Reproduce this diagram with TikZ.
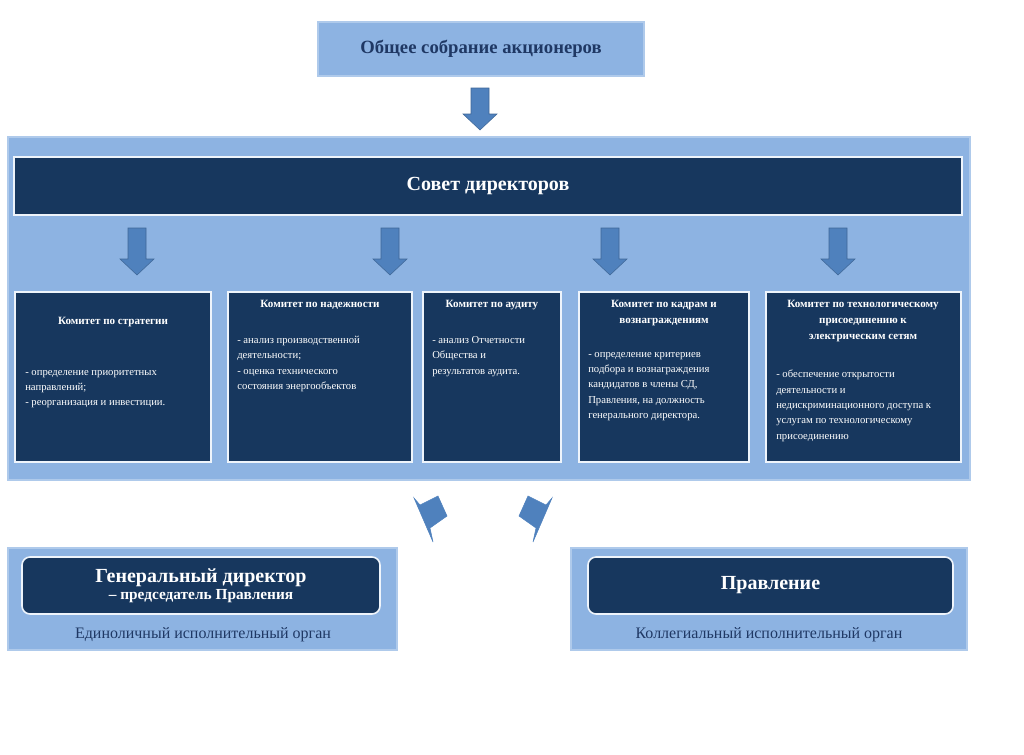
\documentclass[tikz,border=0pt]{standalone}
\usepackage{fontspec}
\setmainfont{Liberation Serif}
\definecolor{lb}{HTML}{8DB3E2}
\definecolor{nv}{HTML}{17375E}
\definecolor{ar}{HTML}{4F81BD}
\definecolor{tx}{HTML}{1F3864}
\begin{document}
\begin{tikzpicture}[x=0.75pt,y=-0.75pt,
  panel/.style={fill=lb,draw=lb!70!white,line width=0.8pt},
  dark/.style={fill=nv,draw=white!85!lb,line width=1.2pt},
  dn/.style={fill=ar,draw=ar!80!black,line width=0.4pt},
  comt/.style={text=white,font=\fontsize{8}{11.5}\selectfont,anchor=north west,inner sep=0pt,align=left},
  ttl/.style={text=white,font=\bfseries\fontsize{8.3}{12}\selectfont,align=center,inner sep=0pt,anchor=north}]
\useasboundingbox (0,0) rectangle (1024,754);
% top
\node[panel,minimum width=326*0.75pt,minimum height=54*0.75pt,inner sep=0pt,text=tx,font=\bfseries\fontsize{14}{16}\selectfont] (gsm) at (481,49) {Общее собрание акционеров};
\newcommand\dnarrow[3]{\filldraw[dn] (#1-9,#2) -- (#1+9,#2) -- (#1+9,#3-16) -- (#1+17,#3-16) -- (#1,#3) -- (#1-17,#3-16) -- (#1-9,#3-16) -- cycle;}
\dnarrow{480}{88}{130}
\draw[panel] (8,137) rectangle (970,480);
\node[dark,minimum width=948*0.75pt,minimum height=58*0.75pt,inner sep=0pt,text=white,font=\bfseries\fontsize{15}{18}\selectfont] (sd) at (488,186) {Совет директоров};
\dnarrow{137}{228}{275}
\dnarrow{390}{228}{275}
\dnarrow{610}{228}{275}
\dnarrow{838}{228}{275}
% committees
\draw[dark] (15,292) rectangle (211,462);
\draw[dark] (228,292) rectangle (412,462);
\draw[dark] (423,292) rectangle (561,462);
\draw[dark] (579,292) rectangle (749,462);
\draw[dark] (766,292) rectangle (961,462);
\node[ttl] (t1) at (113,317) {Комитет по стратегии};
\node[comt] (b1) at (25,370) {- определение приоритетных\\направлений;\\- реорганизация и инвестиции.};
\node[ttl] (t2) at (320,300) {Комитет по надежности};
\node[comt] (b2) at (237,336) {- анализ производственной\\деятельности;\\- оценка технического\\состояния энергообъектов};
\node[ttl] (t3) at (492,300) {Комитет по аудиту};
\node[comt] (b3) at (432,336) {- анализ Отчетности\\Общества и\\результатов аудита.};
\node[ttl] (t4) at (664,300) {Комитет по кадрам и\\вознаграждениям};
\node[comt] (b4) at (588,352) {- определение критериев\\подбора и вознаграждения\\кандидатов в члены СД,\\Правления, на должность\\генерального директора.};
\node[ttl] (t5) at (863,300) {Комитет по технологическому\\присоединению к\\электрическим сетям};
\node[comt] (b5) at (776,370) {- обеспечение открытости\\деятельности и\\недискриминационного доступа к\\услугам по технологическому\\присоединению};
% bent arrows
\filldraw[dn,draw=ar] (414,498) -- (420,505) -- (438,496) -- (447,516) -- (430,528) -- (433,542) -- cycle;
\filldraw[dn,draw=ar] (552,498) -- (546,505) -- (528,496) -- (519,516) -- (536,528) -- (533,542) -- cycle;
% bottom
\draw[panel] (8,548) rectangle (397,650);
\draw[panel] (571,548) rectangle (967,650);
\node[dark,rounded corners=6pt,minimum width=358*0.75pt,minimum height=57*0.75pt,inner sep=0pt,text=white,align=center] (gd) at (201,585.5) {{\bfseries\fontsize{15}{17}\selectfont Генеральный директор}\\[1pt]{\bfseries\fontsize{11.5}{14}\selectfont – председатель Правления}};
\node[dark,rounded corners=6pt,minimum width=365*0.75pt,minimum height=57*0.75pt,inner sep=0pt,text=white,font=\bfseries\fontsize{15}{17}\selectfont] (pr) at (770.5,585.5) {Правление};
\node[text=tx,font=\fontsize{12}{14}\selectfont] (e1) at (203,635) {Единоличный исполнительный орган};
\node[text=tx,font=\fontsize{12}{14}\selectfont] (e2) at (769,635) {Коллегиальный исполнительный орган};
\end{tikzpicture}
\end{document}
